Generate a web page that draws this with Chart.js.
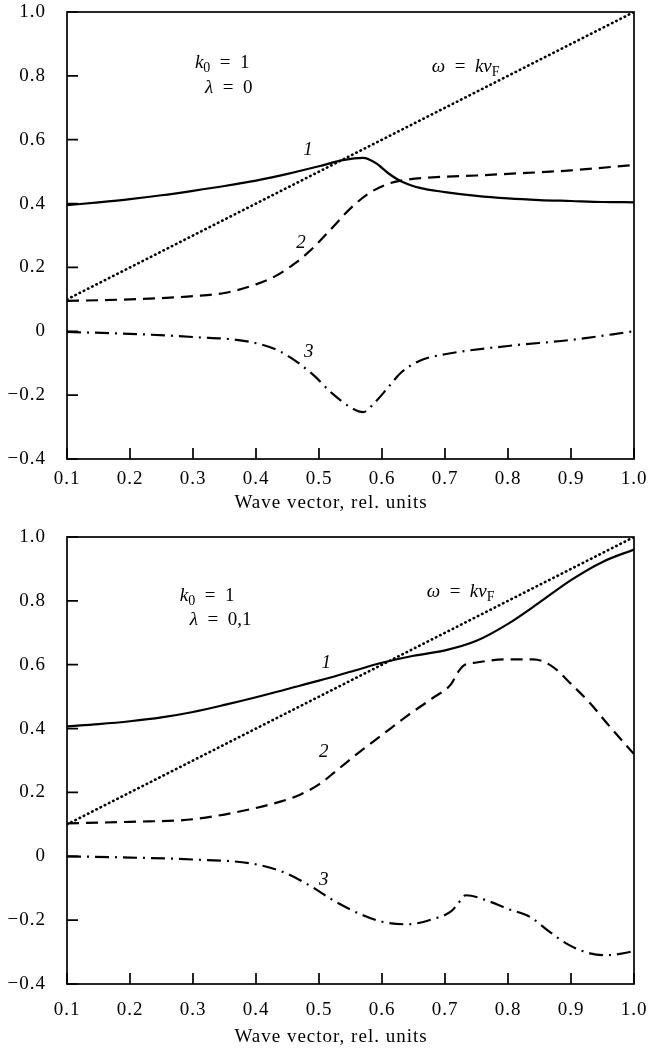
<!DOCTYPE html>
<html>
<head>
<meta charset="utf-8">
<script src="https://cdn.jsdelivr.net/npm/chart.js@4.4.1/dist/chart.umd.min.js"></script>
<style>
  html, body { margin: 0; padding: 0; background: #fff; }
  body { width: 662px; height: 1052px; position: relative; overflow: hidden; }
  .panel { position: absolute; left: 0; width: 662px; height: 525px; }
</style>
</head>
<body>
<div class="panel" style="top:0"><canvas id="chartTop" width="662" height="525"></canvas></div>
<div class="panel" style="top:525px"><canvas id="chartBottom" width="662" height="525"></canvas></div>
<script>
// axis ticks
const xTicks = [0.1, 0.2, 0.3, 0.4, 0.5, 0.6, 0.7, 0.8, 0.9, 1.0];
const xTickLabels = ['0.1', '0.2', '0.3', '0.4', '0.5', '0.6', '0.7', '0.8', '0.9', '1.0'];
const yTicks = [-0.4, -0.2, 0, 0.2, 0.4, 0.6, 0.8, 1.0];
const yTickLabels = ['\u22120.4', '\u22120.2', '0', '0.2', '0.4', '0.6', '0.8', '1.0'];
const xTitle = 'Wave vector, rel. units';

// omega = k vF line (both panels)
const lineX = [0.1, 1.0];
const lineY = [0.1, 1.0];

// top panel, lambda = 0
const top1X = [0.1, 0.15, 0.2, 0.25, 0.3, 0.35, 0.4, 0.45, 0.5, 0.54, 0.57, 0.59, 0.61, 0.63, 0.66, 0.7, 0.75, 0.8, 0.85, 0.9, 0.95, 1.0];
const top1Y = [0.395, 0.404, 0.414, 0.426, 0.44, 0.455, 0.472, 0.493, 0.517, 0.537, 0.543, 0.527, 0.495, 0.47, 0.449, 0.436, 0.424, 0.416, 0.411, 0.408, 0.405, 0.404];
const top2X = [0.1, 0.2, 0.25, 0.3, 0.35, 0.4, 0.43, 0.46, 0.49, 0.52, 0.55, 0.58, 0.61, 0.64, 0.68, 0.75, 0.8, 0.9, 1.0];
const top2Y = [0.095, 0.1, 0.104, 0.11, 0.12, 0.147, 0.172, 0.21, 0.26, 0.322, 0.385, 0.433, 0.462, 0.475, 0.482, 0.488, 0.493, 0.504, 0.521];
const top3X = [0.1, 0.2, 0.3, 0.39, 0.44, 0.49, 0.52, 0.55, 0.57, 0.59, 0.61, 0.63, 0.66, 0.7, 0.8, 0.9, 1.0];
const top3Y = [-0.002, -0.008, -0.018, -0.033, -0.065, -0.135, -0.193, -0.238, -0.253, -0.22, -0.175, -0.13, -0.092, -0.072, -0.046, -0.027, 0.0];

// bottom panel, lambda = 0,1
const bot1X = [0.1, 0.15, 0.2, 0.25, 0.3, 0.35, 0.4, 0.45, 0.5, 0.55, 0.6, 0.65, 0.7, 0.75, 0.8, 0.85, 0.9, 0.95, 1.0];
const bot1Y = [0.407, 0.414, 0.423, 0.435, 0.452, 0.474, 0.498, 0.524, 0.55, 0.578, 0.606, 0.628, 0.645, 0.675, 0.728, 0.795, 0.865, 0.922, 0.961];
const bot2X = [0.1, 0.2, 0.3, 0.39, 0.44, 0.47, 0.5, 0.53, 0.56, 0.6, 0.64, 0.68, 0.71, 0.72, 0.73, 0.75, 0.8, 0.84, 0.87, 0.9, 0.93, 0.96, 1.0];
const bot2Y = [0.103, 0.108, 0.116, 0.147, 0.172, 0.193, 0.225, 0.272, 0.32, 0.38, 0.44, 0.495, 0.54, 0.575, 0.598, 0.607, 0.617, 0.617, 0.595, 0.54, 0.48, 0.41, 0.32];
const bot3X = [0.1, 0.2, 0.3, 0.39, 0.44, 0.49, 0.52, 0.57, 0.6, 0.64, 0.68, 0.71, 0.72, 0.733, 0.77, 0.8, 0.835, 0.865, 0.895, 0.93, 0.955, 0.98, 1.0];
const bot3Y = [0, -0.004, -0.01, -0.022, -0.047, -0.097, -0.135, -0.185, -0.205, -0.213, -0.197, -0.172, -0.15, -0.122, -0.141, -0.165, -0.19, -0.235, -0.276, -0.304, -0.31, -0.305, -0.297];

const serif = '"Liberation Serif", "Times New Roman", serif';

function series(xs, ys) {
    return xs.map((x, i) => ({ x: x, y: ys[i] }));
}

// line styles: solid, dashed, dotted, dash-dot
const styles = {
    solid: { borderDash: [], borderWidth: 2.2 },
    dashed: { borderDash: [12, 7], borderWidth: 2.2 },
    dotted: { borderDash: [0.5, 4.2], borderWidth: 2.6, borderCapStyle: 'round' },
    dashdot: { borderDash: [14, 6, 2, 6], borderWidth: 2.2 }
};

function makeDataset(xs, ys, style) {
    return Object.assign({
        data: series(xs, ys),
        borderColor: '#000',
        backgroundColor: '#000',
        pointRadius: 0,
        fill: false,
        cubicInterpolationMode: 'monotone',
        borderCapStyle: 'butt'
    }, styles[style]);
}

// draw text made of pieces (italic / subscript)
function drawRich(ctx, parts, x, y) {
    let cx = x;
    parts.forEach(p => {
        const size = p.sub ? 14 : 19;
        ctx.font = (p.it ? 'italic ' : '') + size + 'px ' + serif;
        ctx.fillText(p.t, cx, y + (p.sub ? 5 : 0));
        cx += ctx.measureText(p.t).width;
    });
}

const sp = '\u2002';
const topNotes = [
    { x: 0.303, y: 0.84, parts: [{ t: 'k', it: true }, { t: '0', sub: true }, { t: sp + '=' + sp + '1' }] },
    { x: 0.319, y: 0.762, parts: [{ t: '\u03bb', it: true }, { t: sp + '=' + sp + '0' }] },
    { x: 0.679, y: 0.828, parts: [{ t: '\u03c9', it: true }, { t: sp + '=' + sp }, { t: 'kv', it: true }, { t: 'F', sub: true }] },
    { x: 0.475, y: 0.568, parts: [{ t: '1', it: true }] },
    { x: 0.464, y: 0.277, parts: [{ t: '2', it: true }] },
    { x: 0.476, y: -0.065, parts: [{ t: '3', it: true }] }
];
const botNotes = [
    { x: 0.279, y: 0.815, parts: [{ t: 'k', it: true }, { t: '0', sub: true }, { t: sp + '=' + sp + '1' }] },
    { x: 0.295, y: 0.74, parts: [{ t: '\u03bb', it: true }, { t: sp + '=' + sp + '0,1' }] },
    { x: 0.671, y: 0.828, parts: [{ t: '\u03c9', it: true }, { t: sp + '=' + sp }, { t: 'kv', it: true }, { t: 'F', sub: true }] },
    { x: 0.504, y: 0.605, parts: [{ t: '1', it: true }] },
    { x: 0.5, y: 0.327, parts: [{ t: '2', it: true }] },
    { x: 0.5, y: -0.074, parts: [{ t: '3', it: true }] }
];

const spacing = {
    id: 'spacing',
    beforeLayout(chart) { chart.ctx.letterSpacing = '1px'; },
    beforeDraw(chart) { chart.ctx.letterSpacing = '1px'; }
};

// frame, inside ticks, notes and axis title
const frame = {
    id: 'frame',
    afterDatasetsDraw(chart, args, opts) {
        const ctx = chart.ctx;
        const a = chart.chartArea;
        const xs = chart.scales.x;
        const ys = chart.scales.y;
        ctx.save();
        ctx.setLineDash([]);
        ctx.strokeStyle = '#000';
        ctx.lineWidth = 1.7;
        ctx.strokeRect(a.left, a.top, a.right - a.left, a.bottom - a.top);
        ctx.beginPath();
        xTicks.forEach(v => {
            const px = xs.getPixelForValue(v);
            ctx.moveTo(px, a.bottom);
            ctx.lineTo(px, a.bottom - 11);
        });
        yTicks.forEach(v => {
            const py = ys.getPixelForValue(v);
            ctx.moveTo(a.left, py);
            ctx.lineTo(a.left + 11, py);
        });
        ctx.stroke();

        ctx.fillStyle = '#000';
        ctx.letterSpacing = '0px';
        ctx.textBaseline = 'middle';
        ctx.textAlign = 'left';
        opts.notes.forEach(n => {
            drawRich(ctx, n.parts, xs.getPixelForValue(n.x), ys.getPixelForValue(n.y));
        });

        ctx.letterSpacing = '1px';
        ctx.textAlign = 'center';
        ctx.font = '19px ' + serif;
        ctx.fillText(xTitle, chart.width / 2, opts.titleY);
        ctx.restore();
    }
};

function makeChart(id, datasets, notes, labelPad, titleY) {
    const ctx = document.getElementById(id).getContext('2d');
    return new Chart(ctx, {
        type: 'line',
        data: { datasets: datasets },
        plugins: [spacing, frame],
        options: {
            responsive: false,
            animation: false,
            layout: { padding: { top: 12, right: 28, left: 0, bottom: 0 } },
            plugins: {
                legend: { display: false },
                tooltip: { enabled: false },
                frame: { notes: notes, titleY: titleY }
            },
            scales: {
                x: {
                    type: 'linear',
                    min: 0.1,
                    max: 1.0,
                    grid: { display: false },
                    border: { display: false },
                    afterBuildTicks: s => { s.ticks = xTicks.map(v => ({ value: v })); },
                    ticks: {
                        autoSkip: false,
                        maxRotation: 0,
                        padding: labelPad,
                        color: '#000',
                        font: { family: serif, size: 19 },
                        callback: (v, i) => xTickLabels[i]
                    },
                    afterFit: s => {
                        s.height = 525 - 459;
                        s.paddingLeft = 0;
                        s.paddingRight = 0;
                    }
                },
                y: {
                    type: 'linear',
                    min: -0.4,
                    max: 1.0,
                    grid: { display: false },
                    border: { display: false },
                    afterBuildTicks: s => { s.ticks = yTicks.map(v => ({ value: v })); },
                    ticks: {
                        autoSkip: false,
                        padding: 13,
                        color: '#000',
                        font: { family: serif, size: 19 },
                        callback: (v, i) => yTickLabels[i]
                    },
                    afterFit: s => {
                        s.width = 67;
                        s.paddingTop = 0;
                        s.paddingBottom = 0;
                    }
                }
            }
        }
    });
}

makeChart('chartTop', [
    makeDataset(lineX, lineY, 'dotted'),
    makeDataset(top1X, top1Y, 'solid'),
    makeDataset(top2X, top2Y, 'dashed'),
    makeDataset(top3X, top3Y, 'dashdot')
], topNotes, 1, 503);

makeChart('chartBottom', [
    makeDataset(lineX, lineY, 'dotted'),
    makeDataset(bot1X, bot1Y, 'solid'),
    makeDataset(bot2X, bot2Y, 'dashed'),
    makeDataset(bot3X, bot3Y, 'dashdot')
], botNotes, 7, 512);
</script>
</body>
</html>
